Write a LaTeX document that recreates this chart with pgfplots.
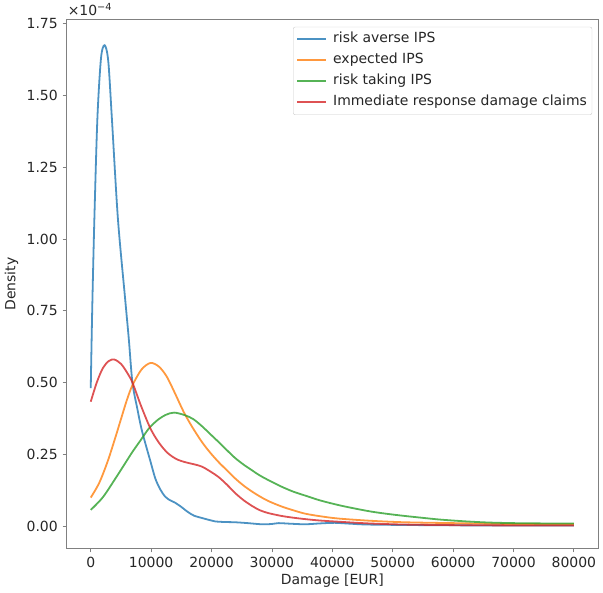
\documentclass[border=0pt]{standalone}
\usepackage{pgfplots}
\pgfplotsset{compat=1.18}
\usepackage{fontspec}
\setmainfont{DejaVu Sans}
\definecolor{tabblue}{HTML}{1F77B4}
\definecolor{taborange}{HTML}{FF7F0E}
\definecolor{tabgreen}{HTML}{2CA02C}
\definecolor{tabred}{HTML}{D62728}
\definecolor{spine}{HTML}{808080}
\definecolor{txt}{HTML}{262626}

% densities in units of 1e-4
\pgfplotstableread{
x y
0 0.48
250 0.76
600 1.07
1100 1.42
1700 1.63
2300 1.675
2900 1.62
3500 1.42
4500 1.07
5700 0.79
6300 0.652
6900 0.50
7700 0.41
8500 0.33
9900 0.224
10700 0.165
11500 0.128
12300 0.103
13100 0.09
13900 0.082
14900 0.068
16000 0.05
17100 0.036
18400 0.028
19800 0.02
20600 0.016
22000 0.014
23900 0.013
26000 0.010
28300 0.006
30000 0.007
31100 0.010
33000 0.008
35500 0.006
38000 0.009
40400 0.011
43000 0.008
46000 0.005
55000 0.003
65000 0.002
80000 0.002
}\tblaverse
\pgfplotstableread{
x y
0 0.099
1400 0.15
2800 0.225
4100 0.31
5000 0.372
6000 0.44
6900 0.49
8400 0.545
9900 0.568
11300 0.555
12600 0.52
14000 0.46
15400 0.397
16800 0.345
18400 0.293
19800 0.255
21200 0.222
22600 0.193
23900 0.166
25300 0.141
26700 0.12
28000 0.103
29400 0.087
31600 0.068
33500 0.055
35500 0.043
38000 0.034
41000 0.026
46500 0.018
52000 0.013
60000 0.010
70000 0.007
80000 0.006
}\tblexpected
\pgfplotstableread{
x y
0 0.056
2000 0.10
4100 0.166
5500 0.212
6900 0.258
8300 0.30
9600 0.339
11000 0.368
12400 0.387
13800 0.395
15600 0.386
17000 0.372
18400 0.348
19800 0.32
21200 0.292
22600 0.263
23900 0.237
25300 0.214
26700 0.194
28000 0.176
29400 0.16
31600 0.137
33500 0.12
35500 0.106
38000 0.089
41000 0.073
43700 0.061
46500 0.050
49200 0.042
52000 0.035
54700 0.029
57500 0.023
60000 0.019
63000 0.015
66000 0.012
70000 0.010
75000 0.009
80000 0.009
}\tbltaking
\pgfplotstableread{
x y
0 0.433
1000 0.50
2000 0.55
3000 0.575
3900 0.58
5000 0.565
6000 0.535
6900 0.50
8300 0.42
9900 0.339
11300 0.29
12700 0.255
14200 0.233
15700 0.222
17100 0.215
18400 0.207
19800 0.19
21200 0.17
22600 0.143
23900 0.115
25300 0.09
26700 0.07
28000 0.055
29400 0.045
31600 0.035
33500 0.029
35500 0.024
38000 0.019
41000 0.015
46000 0.009
52000 0.005
60000 0.003
70000 0.002
80000 0.002
}\tblimmresp

\begin{document}
\fontsize{14}{17}\selectfont
\begin{tikzpicture}
\begin{axis}[
  name=ax,
  scale only axis,
  width=533pt, height=530pt,
  xmin=-4000, xmax=84000,
  ymin=-0.078, ymax=1.763,
  xtick={0,10000,...,80000},
  ytick={0,0.25,...,1.75},
  scaled x ticks=false,
  xticklabel style={/pgf/number format/1000 sep={}},
  yticklabel style={/pgf/number format/.cd,fixed,fixed zerofill,precision=2},
  /pgf/number format/assume math mode=true,
  tick label style={font=\fontsize{14}{17}\selectfont, text=txt},
  label style={font=\fontsize{14}{17}\selectfont, text=txt},
  tick pos=left,
  tick align=outside,
  major tick length=4pt,
  axis line style={spine, line width=0.9pt},
  tick style={spine, line width=0.8pt},
  xlabel={Damage [EUR]},
  ylabel={Density},
  xlabel style={yshift=3pt},
  ylabel style={yshift=-1pt},
  legend cell align=left,
  legend style={at={(rel axis cs:0.989,0.987)}, anchor=north east,
    draw=black!20, rounded corners=2pt, fill=white,
    font=\fontsize{14}{17}\selectfont, text=txt,
    nodes={text height=10pt, text depth=3pt, inner ysep=4pt},
    /tikz/every odd column/.append style={column sep=4pt},
    inner xsep=3pt, inner ysep=2pt},
  legend image code/.code={\draw[#1, line width=2pt, opacity=0.8] (0pt,0pt) -- (29pt,0pt);},
  every axis plot/.append style={line width=1.8pt, smooth, opacity=0.8},
]
\addplot[tabblue] table[x=x,y=y] {\tblaverse};
\addlegendentry{risk averse IPS}
\addplot[taborange] table[x=x,y=y] {\tblexpected};
\addlegendentry{expected IPS}
\addplot[tabgreen] table[x=x,y=y] {\tbltaking};
\addlegendentry{risk taking IPS}
\addplot[tabred] table[x=x,y=y] {\tblimmresp};
\addlegendentry{Immediate response damage claims}
\end{axis}
\node[anchor=south west, inner sep=0pt, text=txt, font=\fontsize{14}{17}\selectfont] at ([shift={(1pt,4pt)}]ax.north west) {×10\textsuperscript{−4}};
\path[use as bounding box] ([shift={(-65pt,-42pt)}]ax.south west) rectangle ([shift={(5pt,20pt)}]ax.north east);
\end{tikzpicture}
\end{document}
